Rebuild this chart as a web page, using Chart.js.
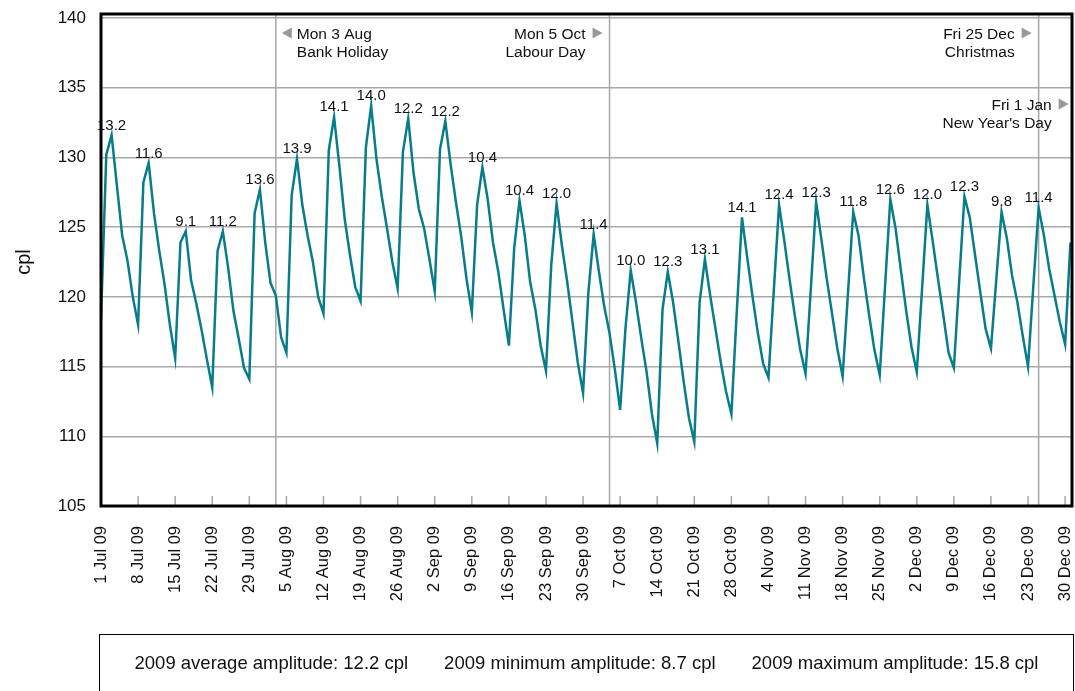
<!DOCTYPE html>
<html>
<head>
<meta charset="utf-8">
<title>Daily petrol price cycle 2009</title>
<script src="https://cdn.jsdelivr.net/npm/chart.js@4.4.1/dist/chart.umd.min.js"></script>
<style>
  body { margin: 0; background: #fff; font-family: "Liberation Sans", Arial, sans-serif; }
  #wrap { position: absolute; left: 0; top: 0; width: 1075px; height: 640px; }
  #footer {
    position: absolute; left: 99px; top: 634px; width: 975px; height: 80px;
    border: 1.5px solid #000; box-sizing: border-box;
    display: flex; justify-content: center; gap: 36px;
    padding-top: 17px; font-size: 18.5px; color: #111;
  }
</style>
</head>
<body>
<div id="wrap"><canvas id="priceChart"></canvas></div>
<div id="footer">
  <span>2009 average amplitude: 12.2 cpl</span>
  <span>2009 minimum amplitude: 8.7 cpl</span>
  <span>2009 maximum amplitude: 15.8 cpl</span>
</div>
<script>
// daily average price (cpl), one value per day from Wed 1 Jul 09, one row per week
const priceCpl = [
  118.4, 130.2, 131.6, 128.0, 124.4, 122.6, 120.0,
  118.0, 128.2, 129.6, 126.0, 123.3, 120.9, 118.0,
  115.6, 123.9, 124.7, 121.2, 119.5, 117.6, 115.5,
  113.5, 123.3, 124.7, 122.1, 119.0, 117.0, 114.9,
  114.1, 126.0, 127.7, 123.9, 121.0, 120.1, 117.1,
  116.0, 127.3, 129.9, 126.6, 124.4, 122.5, 120.0,
  118.8, 130.5, 132.9, 129.4, 125.6, 123.0, 120.7,
  119.7, 130.7, 133.7, 129.9, 127.2, 124.9, 122.5,
  120.6, 130.4, 132.8, 128.9, 126.3, 124.9, 122.7,
  120.4, 130.6, 132.6, 129.5, 126.8, 124.3, 121.3,
  118.9, 126.6, 129.3, 127.0, 123.9, 121.8, 119.1,
  116.5, 123.5, 126.9, 124.4, 121.1, 119.1, 116.5,
  114.7, 122.3, 126.7, 123.7, 121.1, 118.2, 115.3,
  113.1, 120.3, 124.5, 121.8, 119.3, 117.4, 114.8,
  111.9, 117.7, 121.9, 119.6, 117.0, 114.6, 111.6,
  109.5, 119.1, 121.8, 119.6, 116.8, 113.9, 111.3,
  109.6, 119.6, 122.7, 120.1, 117.7, 115.3, 113.2,
  111.6, 118.8, 125.7, 122.8, 120.0, 117.4, 115.2,
  114.2, 120.4, 126.6, 124.0, 121.2, 118.6, 116.2,
  114.5, 120.6, 126.8, 124.1, 121.3, 118.8, 116.3,
  114.3, 120.2, 126.1, 124.4, 121.4, 118.7, 116.2,
  114.4, 120.7, 127.0, 124.9, 121.9, 119.0, 116.4,
  114.6, 120.6, 126.6, 124.0, 121.3, 118.7, 116.0,
  114.9, 121.1, 127.2, 125.7, 123.0, 120.3, 117.7,
  116.3, 121.2, 126.1, 124.2, 121.5, 119.6, 117.2,
  115.0, 120.8, 126.4, 124.4, 122.0, 120.1, 118.2,
  116.6, 123.9
];

// weekly peaks and their amplitude (peak minus preceding trough)
const peakDays = [2, 9, 16, 23, 30, 37, 44, 51, 58, 65, 72, 79, 86, 93, 100, 107, 114, 121, 128, 135, 142, 149, 156, 163, 170, 177];
const amplitudes = ['13.2', '11.6', '9.1', '11.2', '13.6', '13.9', '14.1', '14.0', '12.2', '12.2', '10.4', '10.4', '12.0', '11.4',
  '10.0', '12.3', '13.1', '14.1', '12.4', '12.3', '11.8', '12.6', '12.0', '12.3', '9.8', '11.4'];

const tickDays = [0, 7, 14, 21, 28, 35, 42, 49, 56, 63, 70, 77, 84, 91, 98, 105, 112, 119, 126, 133, 140, 147, 154, 161, 168, 175, 182];
const tickLabels = ['1 Jul 09', '8 Jul 09', '15 Jul 09', '22 Jul 09', '29 Jul 09', '5 Aug 09', '12 Aug 09', '19 Aug 09', '26 Aug 09',
  '2 Sep 09', '9 Sep 09', '16 Sep 09', '23 Sep 09', '30 Sep 09', '7 Oct 09', '14 Oct 09', '21 Oct 09', '28 Oct 09',
  '4 Nov 09', '11 Nov 09', '18 Nov 09', '25 Nov 09', '2 Dec 09', '9 Dec 09', '16 Dec 09', '23 Dec 09', '30 Dec 09'];

const yTicks = [105, 110, 115, 120, 125, 130, 135, 140];

const holidayDays = [33, 96, 177, 184];
const holidayDates = ['Mon 3 Aug', 'Mon 5 Oct', 'Fri 25 Dec', 'Fri 1 Jan'];
const holidayNames = ['Bank Holiday', 'Labour Day', 'Christmas', "New Year's Day"];
const holidaySide = ['right', 'left', 'left', 'left'];
const holidayRow = [0, 0, 0, 1];

Chart.defaults.font.family = '"Liberation Sans", Arial, sans-serif';
Chart.defaults.color = '#111';

const extras = {
  id: 'extras',
  beforeDatasetsDraw(chart) {
    const { ctx, chartArea: a, scales: { x } } = chart;
    ctx.save();
    ctx.strokeStyle = '#a6a6a6';
    ctx.lineWidth = 1.5;
    holidayDays.forEach(d => {
      const px = x.getPixelForValue(d);
      if (px > a.right) return;
      ctx.beginPath(); ctx.moveTo(px, a.top - 4); ctx.lineTo(px, a.bottom); ctx.stroke();
    });
    // small tick marks inside the plot
    tickDays.forEach(d => {
      const px = x.getPixelForValue(d);
      ctx.beginPath(); ctx.moveTo(px, a.bottom - 10); ctx.lineTo(px, a.bottom); ctx.stroke();
    });
    ctx.restore();
  },
  afterDatasetsDraw(chart) {
    const { ctx, chartArea: a, scales: { x, y } } = chart;
    ctx.save();
    ctx.fillStyle = '#111';
    ctx.font = '15px "Liberation Sans", Arial, sans-serif';
    ctx.textAlign = 'center';
    ctx.textBaseline = 'alphabetic';
    peakDays.forEach((d, i) => {
      ctx.fillText(amplitudes[i], x.getPixelForValue(d), y.getPixelForValue(priceCpl[d]) - 5.5);
    });

    ctx.font = '15.5px "Liberation Sans", Arial, sans-serif';
    holidayDays.forEach((d, i) => {
      const px = x.getPixelForValue(d);
      const base = a.top + 21 + holidayRow[i] * 71;
      const mid = base - 6;
      ctx.fillStyle = '#999';
      ctx.beginPath();
      if (holidaySide[i] === 'right') {
        ctx.moveTo(px + 6, mid); ctx.lineTo(px + 16, mid - 5.5); ctx.lineTo(px + 16, mid + 5.5);
      } else {
        ctx.moveTo(px - 7, mid); ctx.lineTo(px - 17, mid - 5.5); ctx.lineTo(px - 17, mid + 5.5);
      }
      ctx.closePath(); ctx.fill();
      ctx.fillStyle = '#111';
      if (holidaySide[i] === 'right') {
        ctx.textAlign = 'left';
        ctx.fillText(holidayDates[i], px + 21, base);
        ctx.fillText(holidayNames[i], px + 21, base + 18);
      } else {
        ctx.textAlign = 'right';
        ctx.fillText(holidayDates[i], px - 24, base);
        ctx.fillText(holidayNames[i], px - 24, base + 18);
      }
    });
    ctx.restore();
  },
  afterDraw(chart) {
    const { ctx, chartArea: a } = chart;
    ctx.save();
    ctx.strokeStyle = '#000';
    ctx.lineWidth = 3;
    ctx.strokeRect(a.left, a.top - 4, a.right - a.left, a.bottom - a.top + 4);
    ctx.restore();
  }
};

new Chart(document.getElementById('priceChart'), {
  type: 'line',
  data: {
    datasets: [{
      data: priceCpl.map((v, i) => ({ x: i, y: v })),
      borderColor: '#087d8a',
      borderWidth: 2.5,
      pointRadius: 0,
      tension: 0,
      fill: false
    }]
  },
  options: {
    responsive: true,
    maintainAspectRatio: false,
    animation: false,
    layout: { padding: { top: 18, right: 3, bottom: 0, left: 0 } },
    plugins: { legend: { display: false }, tooltip: { enabled: false } },
    scales: {
      x: {
        type: 'linear',
        min: 0,
        max: 183.3,
        afterBuildTicks: s => { s.ticks = tickDays.map(v => ({ value: v })); },
        afterFit: s => { s.height = 134; s.paddingLeft = 0; s.paddingRight = 0; },
        grid: { display: false, drawTicks: false },
        border: { display: false },
        ticks: {
          autoSkip: false,
          minRotation: 90,
          maxRotation: 90,
          padding: 20,
          font: { size: 16.5 },
          callback: (v, i) => tickLabels[i]
        }
      },
      y: {
        min: 105,
        max: 140,
        afterBuildTicks: s => { s.ticks = yTicks.map(v => ({ value: v })); },
        afterFit: s => { s.width = 101; s.paddingTop = 0; s.paddingBottom = 0; },
        grid: { color: '#aaaaaa', lineWidth: 1.5, drawTicks: false },
        border: { display: false },
        ticks: { padding: 15, font: { size: 17 } },
        title: { display: true, text: 'cpl', font: { size: 20 }, padding: { top: 12, bottom: 0 } }
      }
    }
  },
  plugins: [extras]
});
</script>
</body>
</html>
